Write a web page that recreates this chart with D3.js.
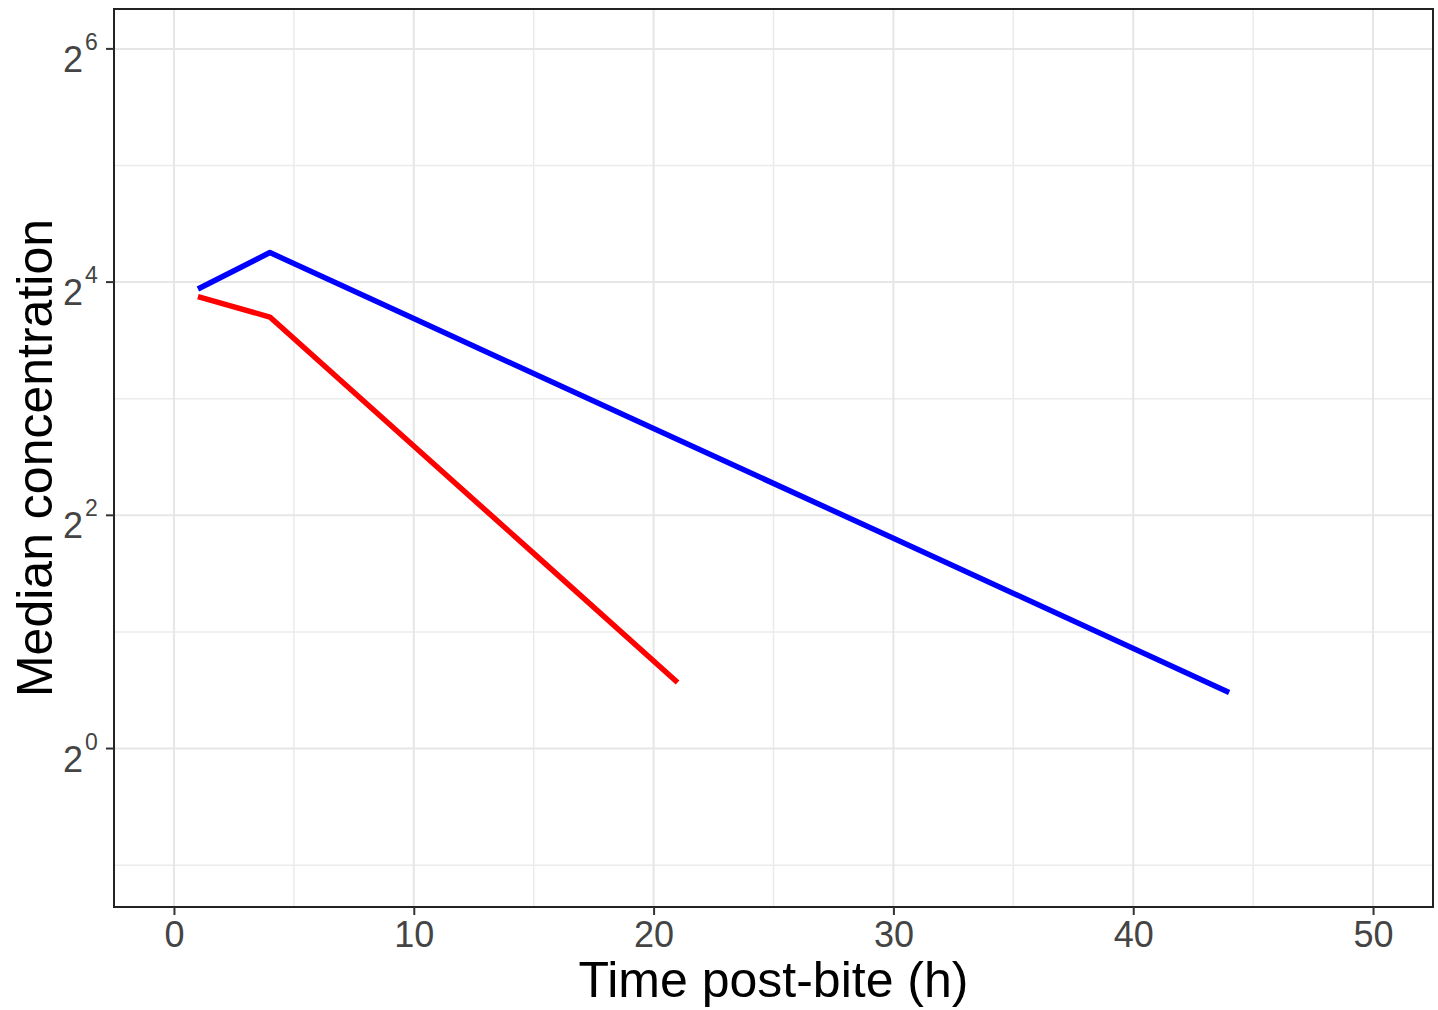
<!DOCTYPE html>
<html>
<head>
<meta charset="utf-8">
<script src="https://cdn.jsdelivr.net/npm/d3@7"></script>
<style>
  body { margin: 0; background: #fff; }
  svg { display: block; }
</style>
</head>
<body>
<script>
// values (hours, median concentration)
var blueTimes = [1, 4, 10, 20, 30, 44];
var blueValues = [15.35, 19.07, 12.88, 6.70, 3.49, 1.395];
var redTimes = [1, 4, 10, 15, 21];
var redValues = [14.68, 13.0, 6.04, 3.19, 1.48];

var xTicks = [0, 10, 20, 30, 40, 50];
var xMinor = [5, 15, 25, 35, 45];
var yExps = [0, 2, 4, 6];
var yMinorExps = [-1, 1, 3, 5];

var w = 1438;
var h = 1010;
var panel = {left: 114, right: 1433, top: 9, bottom: 907};

var svg = d3.select('body')
            .append('svg')
            .attr('width', w)
            .attr('height', h);

var xScale = d3.scaleLinear()
                .domain([-2.5, 52.5])
                .range([panel.left, panel.right]);

var yScale = d3.scaleLog()
                .base(2)
                .domain([Math.pow(2, -1.359), Math.pow(2, 6.342)])
                .range([panel.bottom, panel.top]);

// grid
var grid = svg.append('g');
grid.selectAll('.xminor')
    .data(xMinor).enter().append('line')
    .attr('x1', function(d) { return xScale(d); })
    .attr('x2', function(d) { return xScale(d); })
    .attr('y1', panel.top).attr('y2', panel.bottom)
    .attr('stroke', '#ebebeb').attr('stroke-width', 1.5);
grid.selectAll('.yminor')
    .data(yMinorExps).enter().append('line')
    .attr('y1', function(d) { return yScale(Math.pow(2, d)); })
    .attr('y2', function(d) { return yScale(Math.pow(2, d)); })
    .attr('x1', panel.left).attr('x2', panel.right)
    .attr('stroke', '#ebebeb').attr('stroke-width', 1.5);
grid.selectAll('.xmajor')
    .data(xTicks).enter().append('line')
    .attr('x1', function(d) { return xScale(d); })
    .attr('x2', function(d) { return xScale(d); })
    .attr('y1', panel.top).attr('y2', panel.bottom)
    .attr('stroke', '#e6e6e6').attr('stroke-width', 2);
grid.selectAll('.ymajor')
    .data(yExps).enter().append('line')
    .attr('y1', function(d) { return yScale(Math.pow(2, d)); })
    .attr('y2', function(d) { return yScale(Math.pow(2, d)); })
    .attr('x1', panel.left).attr('x2', panel.right)
    .attr('stroke', '#e6e6e6').attr('stroke-width', 2);

// lines
var line = d3.line()
    .x(function(d) { return xScale(d[0]); })
    .y(function(d) { return yScale(d[1]); });

svg.append('path')
   .datum(d3.zip(redTimes, redValues))
   .attr('d', line)
   .attr('fill', 'none')
   .attr('stroke', '#ff0000')
   .attr('stroke-width', 5.5)
   .attr('stroke-linejoin', 'round');

svg.append('path')
   .datum(d3.zip(blueTimes, blueValues))
   .attr('d', line)
   .attr('fill', 'none')
   .attr('stroke', '#0000ff')
   .attr('stroke-width', 5.5)
   .attr('stroke-linejoin', 'round');

// panel border
svg.append('rect')
   .attr('x', panel.left).attr('y', panel.top)
   .attr('width', panel.right - panel.left).attr('height', panel.bottom - panel.top)
   .attr('fill', 'none')
   .attr('stroke', '#222')
   .attr('stroke-width', 2);

// x axis
var xAxis = d3.axisBottom(xScale)
              .tickValues(xTicks)
              .tickSize(8)
              .tickPadding(6);
var gx = svg.append('g')
   .attr('transform', 'translate(0,' + panel.bottom + ')')
   .call(xAxis);
gx.select('.domain').remove();
gx.selectAll('.tick line').attr('stroke', '#333').attr('stroke-width', 2);
gx.selectAll('.tick text')
  .attr('font-family', 'Liberation Sans, Arial, sans-serif')
  .attr('font-size', '36px')
  .attr('fill', '#444');

// y axis with 2^n labels
var gy = svg.append('g');
var yt = gy.selectAll('.ytick')
   .data(yExps).enter().append('g')
   .attr('transform', function(d) { return 'translate(0,' + yScale(Math.pow(2, d)) + ')'; });
yt.append('line')
  .attr('x1', panel.left - 8).attr('x2', panel.left)
  .attr('stroke', '#333').attr('stroke-width', 2);
yt.append('text')
  .attr('x', 63).attr('y', 23)
  .attr('font-family', 'Liberation Sans, Arial, sans-serif')
  .attr('font-size', '36px')
  .attr('fill', '#444')
  .text('2');
yt.append('text')
  .attr('x', 85).attr('y', 1)
  .attr('font-family', 'Liberation Sans, Arial, sans-serif')
  .attr('font-size', '23px')
  .attr('fill', '#444')
  .text(function(d) { return d; });

// titles
svg.append('text')
   .attr('x', (panel.left + panel.right) / 2)
   .attr('y', 997)
   .attr('text-anchor', 'middle')
   .attr('font-family', 'Liberation Sans, Arial, sans-serif')
   .attr('font-size', '50px')
   .attr('fill', '#000')
   .text('Time post-bite (h)');

svg.append('text')
   .attr('transform', 'translate(52,' + (panel.top + panel.bottom) / 2 + ') rotate(-90)')
   .attr('text-anchor', 'middle')
   .attr('font-family', 'Liberation Sans, Arial, sans-serif')
   .attr('font-size', '50px')
   .attr('fill', '#000')
   .text('Median concentration');
</script>
</body>
</html>
